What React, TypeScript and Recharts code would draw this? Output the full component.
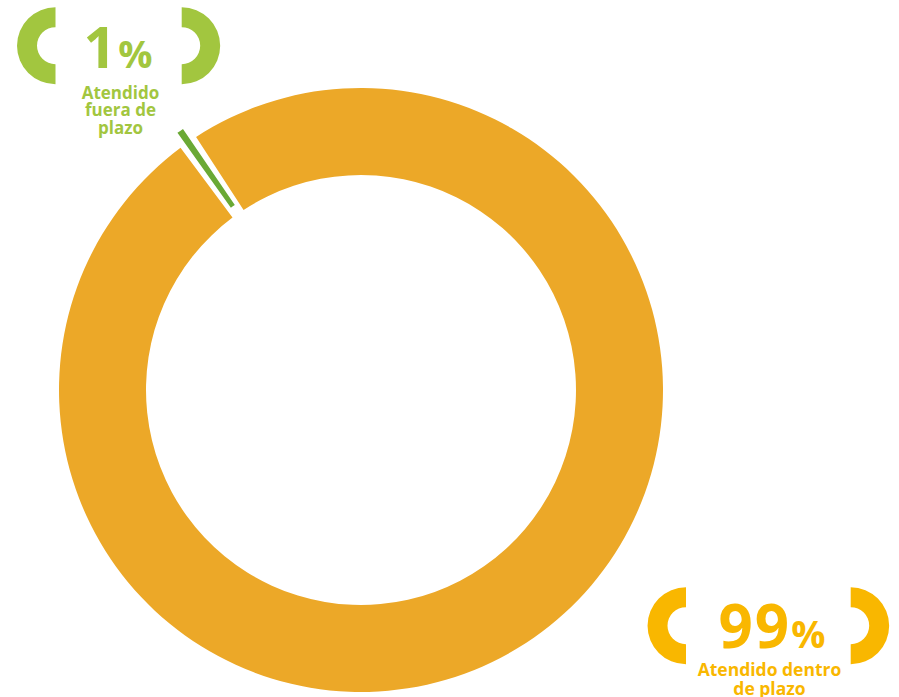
import { Cell, Pie, PieChart, Sector } from "recharts";

// Attention times share (donut with one thin highlighted slice).
const shares = [
  { name: "Atendido dentro de plazo", value: 99 },
  { name: "Atendido fuera de plazo", value: 1 },
];
const percentLabels = ["99", "1"];
const captionLines = [["Atendido dentro", "de plazo"], ["Atendido", "fuera de", "plazo"]];
const bracket = [{ value: 1 }];

const ORANGE = "#ECA828";
const GREEN_SLICE = "#6AA935";
const GREEN_TEXT = "#A2C63F";
const YELLOW = "#F9B700";
const FONT = "'Open Sans', 'Noto Sans', sans-serif";

// draws the slice thinner than its slot, leaving white gaps either side
const thinSlice = (props: any) => {
  const mid = (props.startAngle + props.endAngle) / 2;
  const half = (props.endAngle - props.startAngle) * 0.17;
  return <Sector {...props} startAngle={mid - half} endAngle={mid + half} />;
};

function Bracket({ cx, cy, color, side }: { cx: number; cy: number; color: string; side: "left" | "right" }) {
  const start = side === "left" ? 90 : -90;
  return (
    <Pie
      key={`${cx}-${cy}`}
      data={bracket}
      dataKey="value"
      cx={cx}
      cy={cy}
      innerRadius={18.5}
      outerRadius={38.5}
      startAngle={start}
      endAngle={start + 180}
      stroke="none"
      fill={color}
      isAnimationActive={false}
    />
  );
}

export default function App() {
  return (
    <div style={{ position: "absolute", left: 0, top: 0, width: 899, height: 697, background: "#fff" }}>
      <PieChart width={899} height={697} margin={{ top: 0, right: 0, bottom: 0, left: 0 }}>
        <Pie
          data={shares}
          dataKey="value"
          cx={361}
          cy={390}
          innerRadius={215}
          outerRadius={302}
          startAngle={126.7}
          endAngle={486.7}
          stroke="none"
          isAnimationActive={false}
        >
          <Cell fill={ORANGE} />
          <Cell fill="transparent" />
        </Pie>
        <Pie
          data={shares}
          dataKey="value"
          cx={361}
          cy={390}
          innerRadius={224}
          outerRadius={316}
          startAngle={126.7}
          endAngle={486.7}
          stroke="none"
          shape={thinSlice}
          isAnimationActive={false}
        >
          <Cell fill="transparent" />
          <Cell fill={GREEN_SLICE} />
        </Pie>
        {Bracket({ cx: 55.5, cy: 45.7, color: GREEN_TEXT, side: "left" })}
        {Bracket({ cx: 181.7, cy: 45.7, color: GREEN_TEXT, side: "right" })}
        {Bracket({ cx: 686, cy: 625.7, color: YELLOW, side: "left" })}
        {Bracket({ cx: 850.7, cy: 625.7, color: YELLOW, side: "right" })}
      </PieChart>
      <svg width={899} height={697} style={{ position: "absolute", left: 0, top: 0, pointerEvents: "none" }}>
        <text x={118} y={68} textAnchor="middle" fill={GREEN_TEXT} fontFamily={FONT} fontWeight={700}>
          <tspan fontSize={57}>{percentLabels[1]}</tspan>
          <tspan fontSize={38} dx={2}>%</tspan>
        </text>
        {captionLines[1].map((line, i) => (
          <text key={line} x={120.5} y={98.5 + i * 17.5} textAnchor="middle" fill={GREEN_TEXT} fontFamily={FONT} fontWeight={700} fontSize={17}>
            {line}
          </text>
        ))}
        <text x={772} y={648} textAnchor="middle" fill={YELLOW} fontFamily={FONT} fontWeight={700}>
          <tspan fontSize={60} letterSpacing={2}>{percentLabels[0]}</tspan>
          <tspan fontSize={38}>%</tspan>
        </text>
        {captionLines[0].map((line, i) => (
          <text key={line} x={769.5} y={676 + i * 19} textAnchor="middle" fill={YELLOW} fontFamily={FONT} fontWeight={700} fontSize={17.5}>
            {line}
          </text>
        ))}
      </svg>
    </div>
  );
}
